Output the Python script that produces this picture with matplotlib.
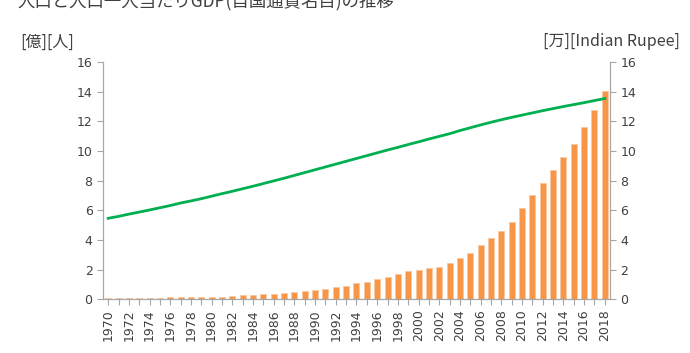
import numpy as np
import matplotlib.pyplot as plt

plt.rcParams['font.family'] = ['DejaVu Sans', 'Noto Sans CJK JP']

years = list(range(1970, 2019))

# population [億人]
population = [5.47, 5.60, 5.75, 5.89, 6.03, 6.18, 6.33, 6.50, 6.64, 6.79,
              6.96, 7.13, 7.29, 7.46, 7.63, 7.81, 7.99, 8.17, 8.36, 8.55,
              8.74, 8.93, 9.12, 9.31, 9.50, 9.69, 9.88, 10.07, 10.25, 10.44,
              10.62, 10.81, 10.99, 11.17, 11.38, 11.57, 11.76, 11.94, 12.11, 12.27,
              12.42, 12.57, 12.72, 12.86, 13.00, 13.13, 13.26, 13.40, 13.54]

# GDP per capita, nominal [万 Indian Rupee]
gdp_pc = [0.07, 0.07, 0.07, 0.08, 0.13, 0.13, 0.14, 0.14, 0.15, 0.15,
          0.18, 0.20, 0.23, 0.27, 0.31, 0.34, 0.39, 0.44, 0.52, 0.58,
          0.65, 0.72, 0.83, 0.92, 1.08, 1.21, 1.39, 1.53, 1.71, 1.91,
          2.00, 2.15, 2.22, 2.49, 2.81, 3.14, 3.64, 4.13, 4.60, 5.23,
          6.19, 7.02, 7.85, 8.75, 9.61, 10.50, 11.60, 12.75, 14.03]

title = '人口と人口一人当たりGDP(自国通貨名目)の推移'
left_label = '[億][人]'
right_label = '[万][Indian Rupee]'

spine_c = '#A6A6A6'
text_c = '#404040'
jp = ['Noto Sans CJK JP', 'DejaVu Sans']

fig = plt.figure(figsize=(6.9, 3.53), dpi=100)
ax2 = fig.add_axes([0.1493, 0.1516, 0.7347, 0.6728])  # bars, right scale
ax = ax2.twinx()
ax.yaxis.tick_left()
ax2.yaxis.tick_right()

x = np.arange(len(years))
ax2.bar(x, gdp_pc, width=0.58, color='#F79646', edgecolor='#FBC8A0', linewidth=0.6)
ax.plot(x, population, color='#00B050', lw=2, zorder=5)

for a in (ax, ax2):
    a.set_ylim(0, 16)
    a.set_yticks(range(0, 17, 2))
    a.set_xlim(-0.5, len(years) - 0.5)
    for s in a.spines.values():
        s.set_color(spine_c)
    a.spines['top'].set_visible(False)
    a.tick_params(colors=spine_c, labelcolor=text_c, labelsize=9, length=4)

ax.spines['right'].set_visible(True)
ax2.spines['left'].set_visible(True)

ax2.set_xticks(x)
ax2.set_xticklabels([str(y) if (y - 1970) % 2 == 0 else '' for y in years],
                    rotation=90)
ax2.tick_params(axis='x', length=4, pad=3)
ax.tick_params(axis='x', bottom=False, labelbottom=False)

fig.text(0.025, 1 - 1 / 353, title, fontsize=12.5, color=text_c,
         va='center', ha='left', family=jp)
fig.text(0.03, 1 - 42 / 353, left_label, fontsize=11.5, color=text_c,
         va='center', ha='left', family=jp)
fig.text(0.787, 1 - 42 / 353, right_label, fontsize=11.5, color=text_c,
         va='center', ha='left', family=jp)

fig.savefig('out.png', dpi=100)
